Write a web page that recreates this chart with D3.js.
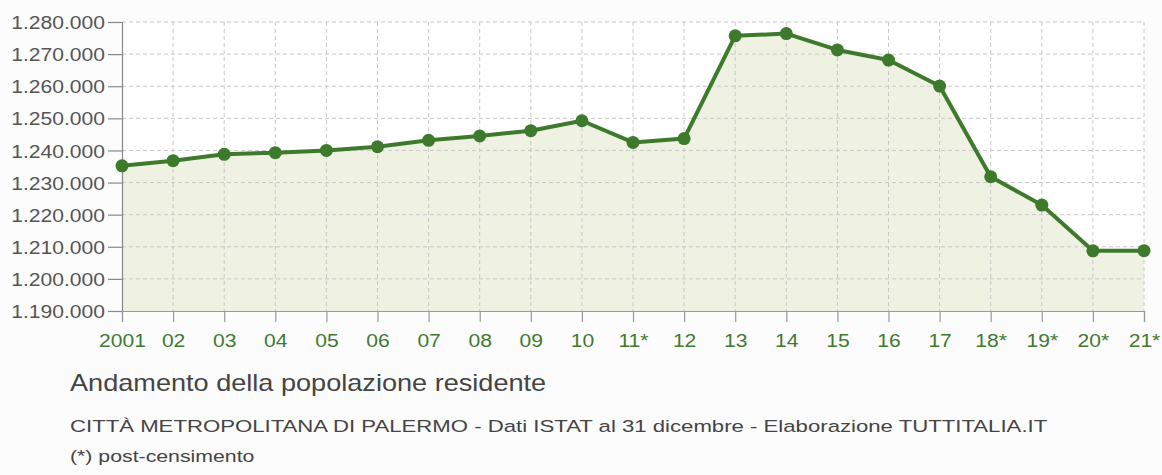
<!DOCTYPE html>
<html>
<head>
<meta charset="utf-8">
<script src="https://cdn.jsdelivr.net/npm/d3@7"></script>
<style>
  html, body { margin: 0; padding: 0; background: #fcfcfc; }
  svg { display: block; font-family: "Liberation Sans", Arial, sans-serif; }
</style>
</head>
<body>
<svg id="chart" width="1162" height="475"></svg>
<script>
// Popolazione residente al 31 dicembre, Città Metropolitana di Palermo
const years = ["2001", "02", "03", "04", "05", "06", "07", "08", "09", "10",
               "11*", "12", "13", "14", "15", "16", "17", "18*", "19*", "20*", "21*"];
const population = [1235200, 1236800, 1238800, 1239300, 1240000, 1241150, 1243150,
                    1244500, 1246150, 1249250, 1242500, 1243700, 1275700, 1276400,
                    1271300, 1268150, 1260050, 1231800, 1223000, 1208750, 1208800];
const yTicks = [1190000, 1200000, 1210000, 1220000, 1230000, 1240000,
                1250000, 1260000, 1270000, 1280000];

const title = "Andamento della popolazione residente";
const subtitle = "CITTÀ METROPOLITANA DI PALERMO - Dati ISTAT al 31 dicembre - Elaborazione TUTTITALIA.IT";
const footnote = "(*) post-censimento";

const svg = d3.select("#chart");
const plotLeft = 122, plotRight = 1144, plotTop = 22, plotBottom = 311;
const sx = 1.11; // horizontal stretch of the axis lettering

const x = d3.scalePoint().domain(years).range([plotLeft, plotRight]);
const y = d3.scaleLinear().domain([1190000, 1280000]).range([plotBottom, plotTop]);

const fmt = v => d3.format(",")(v).replace(/,/g, ".");

// white plot area
svg.append("rect").attr("x", plotLeft).attr("y", plotTop)
  .attr("width", plotRight - plotLeft).attr("height", plotBottom - plotTop).attr("fill", "#ffffff");

// area under the line
const area = d3.area().x((d, i) => x(years[i])).y0(plotBottom).y1(d => y(d));
svg.append("path").datum(population).attr("d", area).attr("fill", "#eff1e2");

// dashed grid
const grid = svg.append("g").attr("stroke", "#c8c8c8").attr("stroke-dasharray", "4,3").attr("stroke-width", 1);
grid.selectAll("line.h").data(yTicks.filter(t => t > 1190000)).join("line")
  .attr("x1", plotLeft).attr("x2", plotRight).attr("y1", d => y(d)).attr("y2", d => y(d));
grid.selectAll("line.v").data(years.slice(1)).join("line")
  .attr("x1", d => x(d)).attr("x2", d => x(d)).attr("y1", plotTop).attr("y2", plotBottom);

// y axis
const yAxis = svg.append("g").attr("transform", `translate(${plotLeft},0)`)
  .call(d3.axisLeft(y).tickValues(yTicks).tickFormat(fmt).tickSize(14).tickPadding(2));
yAxis.select(".domain").attr("stroke", "#888").attr("stroke-width", 1.2);
yAxis.selectAll(".tick line").attr("stroke", "#888").attr("stroke-width", 1.2);
yAxis.selectAll(".tick text")
  .attr("fill", "#555").attr("font-size", 19).attr("font-family", "Liberation Sans, Arial, sans-serif")
  .attr("x", null).attr("dy", null).attr("dominant-baseline", "central")
  .attr("transform", `translate(-17,0) scale(${sx},1)`);

// x axis
const xAxis = svg.append("g").attr("transform", `translate(0,${plotBottom})`)
  .call(d3.axisBottom(x).tickSize(11).tickPadding(4));
xAxis.select(".domain").attr("stroke", "#999").attr("stroke-width", 1.2);
xAxis.selectAll(".tick line").attr("stroke", "#999").attr("stroke-width", 1.2);
xAxis.selectAll(".tick text")
  .attr("fill", "#3f7a2f").attr("font-size", 19).attr("font-family", "Liberation Sans, Arial, sans-serif")
  .attr("y", null).attr("dy", null)
  .attr("transform", `translate(0,36) scale(${sx},1)`);

// line and points
const line = d3.line().x((d, i) => x(years[i])).y(d => y(d));
svg.append("path").datum(population).attr("d", line)
  .attr("fill", "none").attr("stroke", "#3d7a2c").attr("stroke-width", 4).attr("stroke-linejoin", "round");
svg.selectAll("circle.pt").data(population).join("circle")
  .attr("class", "pt")
  .attr("cx", (d, i) => x(years[i])).attr("cy", d => y(d)).attr("r", 6.5)
  .attr("fill", "#3d7a2c");

// captions
svg.append("text").text(title)
  .attr("transform", "translate(70,391) scale(1.13,1)")
  .attr("font-size", 24).attr("fill", "#444");
svg.append("text").text(subtitle)
  .attr("transform", "translate(70,432) scale(1.32,1)")
  .attr("font-size", 16.8).attr("fill", "#444");
svg.append("text").text(footnote)
  .attr("transform", "translate(70,462) scale(1.29,1)")
  .attr("font-size", 16.5).attr("fill", "#444");
</script>
</body>
</html>
